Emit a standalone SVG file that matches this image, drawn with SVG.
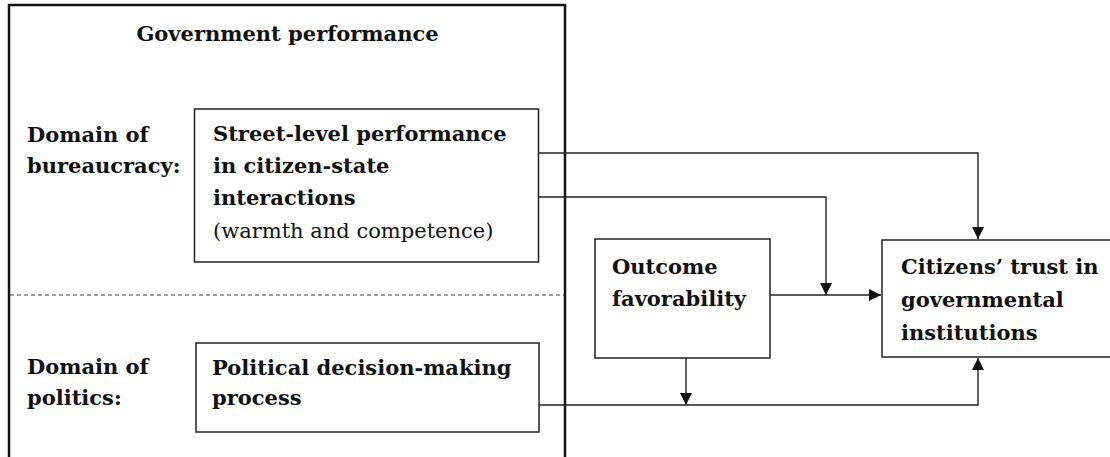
<svg xmlns="http://www.w3.org/2000/svg" width="1110" height="457" viewBox="0 0 1110 457">
<style>
  text { font-family: "DejaVu Serif", "Liberation Serif", serif; fill: #111; font-size: 21px; }
  .b { font-weight: bold; }
  .r { font-weight: normal; }
  .box { fill: #fff; stroke: #222; stroke-width: 1.5; }
  .thick { fill: none; stroke: #111; stroke-width: 2.5; }
  .conn path { fill: none; stroke: #222; stroke-width: 1.4; }
</style>
<defs>
  <marker id="arr" viewBox="0 0 12 12" refX="12" refY="6" markerWidth="12" markerHeight="12" orient="auto" markerUnits="userSpaceOnUse">
    <path d="M0,0 L12,6 L0,12 z" fill="#111"/>
  </marker>
</defs>
<rect width="1110" height="457" fill="#fff"/>

<g id="government-performance">
  <rect class="thick" x="9" y="5" width="556" height="470"/>
  <line x1="10" y1="295" x2="564" y2="295" stroke="#444" stroke-width="1" stroke-dasharray="4,3"/>
  <text class="b" x="287.5" y="41" text-anchor="middle">Government performance</text>
</g>

<g id="domain-bureaucracy">
  <text class="b" x="27" y="142">Domain of</text>
  <text class="b" x="27" y="173">bureaucracy:</text>
</g>

<g id="domain-politics">
  <text class="b" x="27" y="374">Domain of</text>
  <text class="b" x="27" y="405">politics:</text>
</g>

<g id="street-level">
  <rect class="box" x="194.5" y="109" width="344" height="153"/>
  <text class="b" x="213" y="140.5">Street-level performance</text>
  <text class="b" x="213" y="172.5">in citizen-state</text>
  <text class="b" x="213" y="205">interactions</text>
  <text class="r" x="213" y="237.5">(warmth and competence)</text>
</g>

<g id="political">
  <rect class="box" x="196" y="343" width="343" height="89"/>
  <text class="b" x="212" y="375">Political decision-making</text>
  <text class="b" x="212" y="405">process</text>
</g>

<g id="outcome">
  <rect class="box" x="595" y="239" width="175" height="119"/>
  <text class="b" x="612" y="274">Outcome</text>
  <text class="b" x="612" y="306">favorability</text>
</g>

<g id="citizens-trust">
  <rect class="box" x="882" y="240" width="240" height="117" stroke-width="2.5"/>
  <text class="b" x="901" y="273.5">Citizens’ trust in</text>
  <text class="b" x="901" y="306.5">governmental</text>
  <text class="b" x="901" y="340">institutions</text>
</g>

<g id="connectors" class="conn">
  <path d="M538.5,153 H978 V239" marker-end="url(#arr)"/>
  <path d="M538.5,197 H826 V295" marker-end="url(#arr)"/>
  <path d="M770,295 H881" marker-end="url(#arr)"/>
  <path d="M686,358 V405" marker-end="url(#arr)"/>
  <path d="M539,405 H978 V358" marker-end="url(#arr)"/>
</g>
</svg>
